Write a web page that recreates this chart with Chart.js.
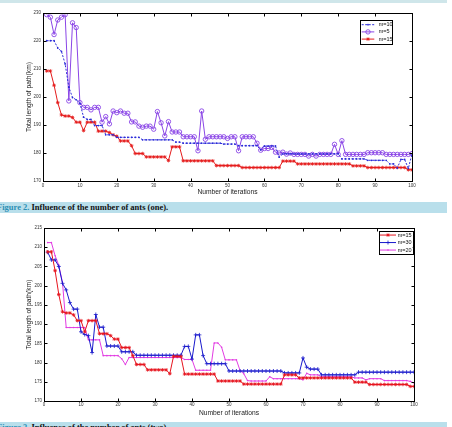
<!DOCTYPE html>
<html>
<head>
<meta charset="utf-8">
<script src="https://cdn.jsdelivr.net/npm/chart.js@4.4.1/dist/chart.umd.min.js"></script>
<style>
  html, body { margin: 0; padding: 0; background: #fff; }
  body { width: 452px; height: 427px; position: relative; overflow: hidden; }
  canvas { position: absolute; left: 0; }
  #c1 { top: 0; }
  #c2 { top: 215px; }
  .band { position: absolute; left: 0; width: 447px; background: #b9dfeb; }
  .cap { position: absolute; left: -3px; white-space: nowrap; font: bold 8.5px "Liberation Serif", "Times New Roman", serif; color: #111; }
  .cap span { color: #2d8fb5; }
</style>
</head>
<body>
<div class="band" style="top:0;height:3px;background:#cfe6ea"></div>
<canvas id="c1" width="452" height="200"></canvas>
<div class="band" style="top:202px;height:11px"></div>
<div class="cap" style="top:202px;line-height:11px"><span>Figure 2.</span> Influence of the number of ants (one).</div>
<canvas id="c2" width="452" height="212"></canvas>
<div class="band" style="top:422px;height:5px"></div>
<div class="cap" style="top:422px;line-height:11px"><span>Figure 3.</span> Influence of the number of ants (two).</div>

<script>
// iteration index 1..100 (x positions of the samples)
const iterations = Array.from({ length: 100 }, (_, i) => i + 1);

const xTicks = [0, 10, 20, 30, 40, 50, 60, 70, 80, 90, 100];
const yTicksOne = [170, 180, 190, 200, 210, 220, 230];
const yTicksTwo = [170, 175, 180, 185, 190, 195, 200, 205, 210, 215];

// Figure 2
const antsOneM10 = [
  220.1, 220.1, 220.1, 217.5, 216.3, 211.8, 203.5, 199.8, 199.0, 197.8,
  192.8, 192.0, 192.0, 189.8, 189.8, 189.8, 186.5, 186.5, 186.5, 185.6,
  185.6, 185.6, 185.6, 185.6, 185.6, 185.6, 184.7, 184.7, 184.7, 184.7,
  184.7, 184.7, 184.7, 184.7, 184.7, 183.9, 183.9, 183.5, 183.5, 183.5,
  183.5, 183.5, 183.5, 183.5, 183.5, 183.5, 183.5, 183.5, 183.2, 183.2,
  183.2, 183.2, 182.6, 182.6, 182.6, 182.6, 182.6, 182.6, 181.1, 182.5,
  182.5, 182.5, 182.5, 178.5, 179.7, 179.7, 179.7, 179.7, 179.7, 179.7,
  179.7, 179.7, 179.7, 179.7, 179.7, 179.7, 179.7, 179.7, 179.7, 179.7,
  177.9, 177.9, 177.9, 177.9, 177.9, 177.9, 177.9, 177.4, 177.4, 177.4,
  177.4, 177.4, 177.4, 176.1, 176.1, 174.6, 177.7, 177.7, 174.5, 179.6
];
const antsOneM5 = [
  229.4, 228.5, 222.3, 227.5, 228.5, 229.4, 198.6, 226.5, 224.8, 198.0,
  196.3, 196.3, 195.4, 196.3, 196.3, 191.0, 193.0, 190.4, 195.0, 194.4,
  195.0, 194.2, 194.2, 191.1, 191.1, 189.6, 189.2, 189.6, 189.6, 188.5,
  194.8, 190.8, 186.1, 191.2, 187.5, 187.5, 187.5, 185.8, 185.8, 185.8,
  185.8, 180.8, 195.0, 184.9, 185.8, 185.8, 185.8, 185.8, 185.8, 185.2,
  185.8, 185.8, 180.8, 185.8, 185.8, 185.8, 185.8, 183.5, 181.0, 181.6,
  181.6, 182.0, 180.3, 180.0, 180.3, 179.6, 180.0, 179.5, 179.5, 179.5,
  179.5, 178.9, 179.5, 178.9, 179.5, 179.5, 179.5, 179.5, 183.1, 179.5,
  184.4, 179.5, 179.5, 179.5, 179.5, 179.5, 179.5, 180.1, 180.1, 180.1,
  180.1, 180.1, 179.5, 179.5, 179.5, 179.5, 179.5, 179.5, 179.5, 179.8
];
const antsOneM15 = [
  209.3, 209.3, 204.2, 198.0, 193.6, 193.2, 193.2, 192.7, 191.0, 191.0,
  188.0, 191.0, 191.0, 191.0, 187.8, 187.8, 187.8, 187.3, 186.5, 186.0,
  184.3, 184.3, 184.3, 182.6, 179.8, 179.8, 179.8, 178.6, 178.6, 178.6,
  178.6, 178.6, 178.6, 177.3, 182.2, 182.2, 182.2, 177.2, 177.2, 177.2,
  177.2, 177.2, 177.2, 177.2, 177.2, 177.2, 175.5, 175.5, 175.5, 175.5,
  175.5, 175.5, 175.5, 174.8, 174.8, 174.8, 174.8, 174.8, 174.8, 174.8,
  174.8, 174.8, 174.8, 174.8, 177.1, 177.1, 177.1, 177.1, 176.1, 176.1,
  176.1, 176.1, 176.1, 176.1, 176.1, 176.1, 176.1, 176.1, 176.1, 176.1,
  176.1, 176.1, 176.1, 175.4, 175.4, 175.4, 175.4, 174.8, 174.8, 174.8,
  174.8, 174.8, 174.8, 174.8, 174.8, 174.8, 174.8, 174.8, 174.0, 174.0
];

// Figure 3
const antsTwoM15 = [
  208.8, 208.8, 203.9, 197.7, 193.2, 192.9, 192.9, 192.4, 190.9, 190.9,
  188.0, 190.9, 190.9, 190.9, 187.5, 187.5, 187.5, 187.0, 186.1, 186.1,
  183.9, 183.9, 183.9, 181.8, 179.5, 179.5, 179.5, 178.1, 178.1, 178.1,
  178.1, 178.1, 178.1, 177.1, 181.6, 181.6, 181.6, 177.0, 177.0, 177.0,
  177.0, 177.0, 177.0, 177.0, 177.0, 177.0, 175.2, 175.2, 175.2, 175.2,
  175.2, 175.2, 175.2, 174.4, 174.4, 174.4, 174.4, 174.4, 174.4, 174.4,
  174.4, 174.4, 174.4, 174.4, 176.8, 176.8, 176.8, 176.8, 176.0, 176.0,
  176.0, 176.0, 176.0, 176.0, 176.0, 176.0, 176.0, 176.0, 176.0, 176.0,
  176.0, 176.0, 176.0, 174.9, 174.9, 174.9, 174.9, 174.3, 174.3, 174.3,
  174.3, 174.3, 174.3, 174.3, 174.3, 174.3, 174.3, 174.3, 173.8, 173.8
];
const antsTwoM30 = [
  208.7, 206.7, 206.7, 205.0, 200.6, 198.9, 195.6, 193.9, 193.9, 188.0,
  187.3, 187.0, 182.6, 192.5, 189.2, 189.2, 184.3, 184.3, 184.3, 184.3,
  182.8, 182.8, 182.8, 182.8, 181.9, 181.9, 181.9, 181.9, 181.9, 181.9,
  181.9, 181.9, 181.9, 181.9, 181.9, 181.9, 181.9, 184.2, 184.2, 180.9,
  187.2, 187.2, 181.8, 179.7, 179.7, 179.7, 179.7, 179.7, 179.7, 177.8,
  177.8, 177.8, 177.8, 177.8, 177.8, 177.8, 177.8, 177.8, 177.8, 177.8,
  177.8, 177.8, 177.8, 177.8, 177.3, 177.3, 177.3, 177.3, 177.3, 181.2,
  178.8, 178.3, 178.3, 178.3, 176.8, 176.8, 176.8, 176.8, 176.8, 176.8,
  176.8, 176.8, 176.8, 176.8, 177.5, 177.5, 177.5, 177.5, 177.5, 177.5,
  177.5, 177.5, 177.5, 177.5, 177.5, 177.5, 177.5, 177.5, 177.5, 177.5
];
const antsTwoM20 = [
  211.2, 211.2, 207.8, 205.3, 200.8, 189.1, 189.1, 189.1, 189.1, 189.1,
  189.1, 185.9, 185.9, 185.9, 185.9, 181.8, 181.8, 181.8, 181.8, 181.8,
  181.0, 179.5, 181.3, 181.3, 181.3, 181.3, 181.3, 181.3, 181.3, 181.3,
  181.3, 181.3, 181.3, 181.3, 181.3, 181.3, 181.3, 180.8, 180.8, 180.8,
  178.0, 178.0, 178.0, 178.0, 178.0, 185.1, 185.1, 184.0, 180.7, 180.7,
  180.7, 180.7, 177.9, 177.1, 175.3, 175.2, 175.2, 175.2, 175.2, 175.2,
  176.3, 175.8, 175.8, 175.8, 175.8, 175.8, 175.8, 175.8, 175.8, 175.5,
  177.2, 176.8, 176.8, 176.8, 176.3, 176.3, 176.3, 176.3, 176.3, 176.3,
  176.3, 176.3, 176.3, 176.0, 176.0, 176.0, 175.5, 175.8, 175.8, 175.8,
  175.8, 175.3, 175.3, 175.3, 175.3, 175.3, 175.3, 175.3, 175.1, 174.7
];

const sans = "'Liberation Sans', Arial, sans-serif";
const tickFont = { family: sans, size: 4.5 };
const titleFont = { family: sans, size: 6.7 };

// matlab-like box with inward ticks on all four sides
const framePlugin = {
  id: 'frame',
  afterDatasetsDraw(chart) {
    const { ctx, chartArea: a, scales: { x, y } } = chart;
    const t = 3;
    const L = Math.round(a.left) + 0.5, R = Math.round(a.right) + 0.5;
    const T = Math.round(a.top) + 0.5, B = Math.round(a.bottom) + 0.5;
    ctx.save();
    ctx.strokeStyle = '#000';
    ctx.lineWidth = 1;
    ctx.beginPath();
    x.ticks.forEach(tk => {
      const px = Math.round(x.getPixelForValue(tk.value)) + 0.5;
      ctx.moveTo(px, B); ctx.lineTo(px, B - t);
      ctx.moveTo(px, T); ctx.lineTo(px, T + t);
    });
    y.ticks.forEach(tk => {
      const py = Math.round(y.getPixelForValue(tk.value)) + 0.5;
      ctx.moveTo(L, py); ctx.lineTo(L + t, py);
      ctx.moveTo(R, py); ctx.lineTo(R - t, py);
    });
    ctx.stroke();
    ctx.strokeRect(L, T, R - L, B - T);
    ctx.restore();
  }
};

// boxed legend inside the plot area
const boxLegendPlugin = {
  id: 'boxLegend',
  afterDraw(chart, args, o) {
    const { ctx } = chart;
    const sets = chart.data.datasets;
    const h = o.pad * 2 + o.rowH * sets.length;
    ctx.save();
    ctx.fillStyle = '#fff';
    ctx.fillRect(o.left, o.top, o.width, h);
    ctx.strokeStyle = '#000';
    ctx.lineWidth = 1;
    ctx.strokeRect(Math.round(o.left) + 0.5, Math.round(o.top) + 0.5, Math.round(o.width), Math.round(h));
    ctx.font = `${o.fontSize}px ${sans}`;
    ctx.textBaseline = 'middle';
    sets.forEach((ds, i) => {
      const yy = o.top + o.pad + o.rowH * (i + 0.5);
      const x0 = o.left + o.sampleStart, x1 = x0 + o.sampleLen;
      ctx.strokeStyle = ds.borderColor;
      ctx.lineWidth = ds.borderWidth;
      ctx.setLineDash(ds.borderDash || []);
      ctx.beginPath();
      ctx.moveTo(x0, yy);
      ctx.lineTo(x1, yy);
      ctx.stroke();
      ctx.setLineDash([]);
      ctx.fillStyle = ds.pointBackgroundColor;
      ctx.lineWidth = ds.pointBorderWidth;
      Chart.helpers.drawPoint(ctx, {
        pointStyle: ds.pointStyle, radius: ds.pointRadius,
        rotation: 0, borderWidth: ds.pointBorderWidth
      }, (x0 + x1) / 2, yy);
      ctx.fillStyle = '#111';
      ctx.fillText(ds.label, o.left + o.textStart, yy);
    });
    ctx.restore();
  }
};

function makeScales(yTicks, yWidth, xHeight, xTickPad, xTitleBottom) {
  return {
    x: {
      type: 'linear',
      min: xTicks[0],
      max: xTicks[xTicks.length - 1],
      afterBuildTicks: s => { s.ticks = xTicks.map(v => ({ value: v })); },
      afterFit: s => { s.height = xHeight; },
      grid: { display: false, drawTicks: false },
      border: { display: false },
      ticks: { font: tickFont, color: '#333', padding: xTickPad, maxRotation: 0, autoSkip: false },
      title: {
        display: true, text: 'Number of iterations', font: titleFont, color: '#222',
        padding: { top: 0, bottom: xTitleBottom }
      }
    },
    y: {
      min: yTicks[0],
      max: yTicks[yTicks.length - 1],
      afterBuildTicks: s => { s.ticks = yTicks.map(v => ({ value: v })); },
      afterFit: s => { s.width = yWidth; },
      grid: { display: false, drawTicks: false },
      border: { display: false },
      ticks: { font: tickFont, color: '#333', padding: 2, autoSkip: false },
      title: {
        display: true, text: 'Total length of path(km)', font: titleFont, color: '#222',
        padding: { top: 25.3, bottom: 0 }
      }
    }
  };
}

new Chart(document.getElementById('c1'), {
  type: 'line',
  data: {
    labels: iterations,
    datasets: [
      {
        label: 'm=10', data: antsOneM10,
        borderColor: '#2a2ad8', borderWidth: 1, borderDash: [2, 1.5],
        pointStyle: 'circle', pointRadius: 0.9, pointBorderWidth: 0,
        pointBackgroundColor: '#2a2ad8'
      },
      {
        label: 'm=5', data: antsOneM5,
        borderColor: '#8a45e6', borderWidth: 1,
        pointStyle: 'circle', pointRadius: 2.2, pointBorderWidth: 0.9,
        pointBackgroundColor: 'rgba(0,0,0,0)'
      },
      {
        label: 'm=15', data: antsOneM15,
        borderColor: '#e41b1b', borderWidth: 1,
        pointStyle: 'star', pointRadius: 1.8, pointBorderWidth: 0.8,
        pointBackgroundColor: '#e41b1b'
      }
    ]
  },
  options: {
    responsive: false,
    animation: false,
    events: [],
    layout: { padding: { top: 13, right: 40, left: 0, bottom: 0 } },
    elements: { line: { tension: 0 } },
    plugins: {
      legend: { display: false },
      tooltip: { enabled: false },
      boxLegend: { left: 360, top: 20, width: 32, rowH: 7.2, pad: 1.1, sampleStart: 1.7, sampleLen: 12.6, textStart: 18.7, fontSize: 5.5 }
    },
    scales: makeScales(yTicksOne, 43, 19, 2, 4)
  },
  plugins: [framePlugin, boxLegendPlugin]
});

new Chart(document.getElementById('c2'), {
  type: 'line',
  data: {
    labels: iterations,
    datasets: [
      {
        label: 'm=15', data: antsTwoM15,
        borderColor: '#e6141e', borderWidth: 1,
        pointStyle: 'star', pointRadius: 1.8, pointBorderWidth: 0.8,
        pointBackgroundColor: '#e6141e'
      },
      {
        label: 'm=30', data: antsTwoM30,
        borderColor: '#1818cc', borderWidth: 1,
        pointStyle: 'cross', pointRadius: 2, pointBorderWidth: 0.8,
        pointBackgroundColor: '#1818cc'
      },
      {
        label: 'm=20', data: antsTwoM20,
        borderColor: '#e23be2', borderWidth: 1,
        pointStyle: 'circle', pointRadius: 0.8, pointBorderWidth: 0,
        pointBackgroundColor: '#e23be2'
      }
    ]
  },
  options: {
    responsive: false,
    animation: false,
    events: [],
    layout: { padding: { top: 13, right: 38, left: 0, bottom: 0 } },
    elements: { line: { tension: 0 } },
    plugins: {
      legend: { display: false },
      tooltip: { enabled: false },
      boxLegend: { left: 378.7, top: 16, width: 34, rowH: 7.5, pad: 0.3, sampleStart: 1.3, sampleLen: 16, textStart: 19, fontSize: 5.5 }
    },
    scales: makeScales(yTicksTwo, 44, 26, 1.5, 10)
  },
  plugins: [framePlugin, boxLegendPlugin]
});
</script>
</body>
</html>
